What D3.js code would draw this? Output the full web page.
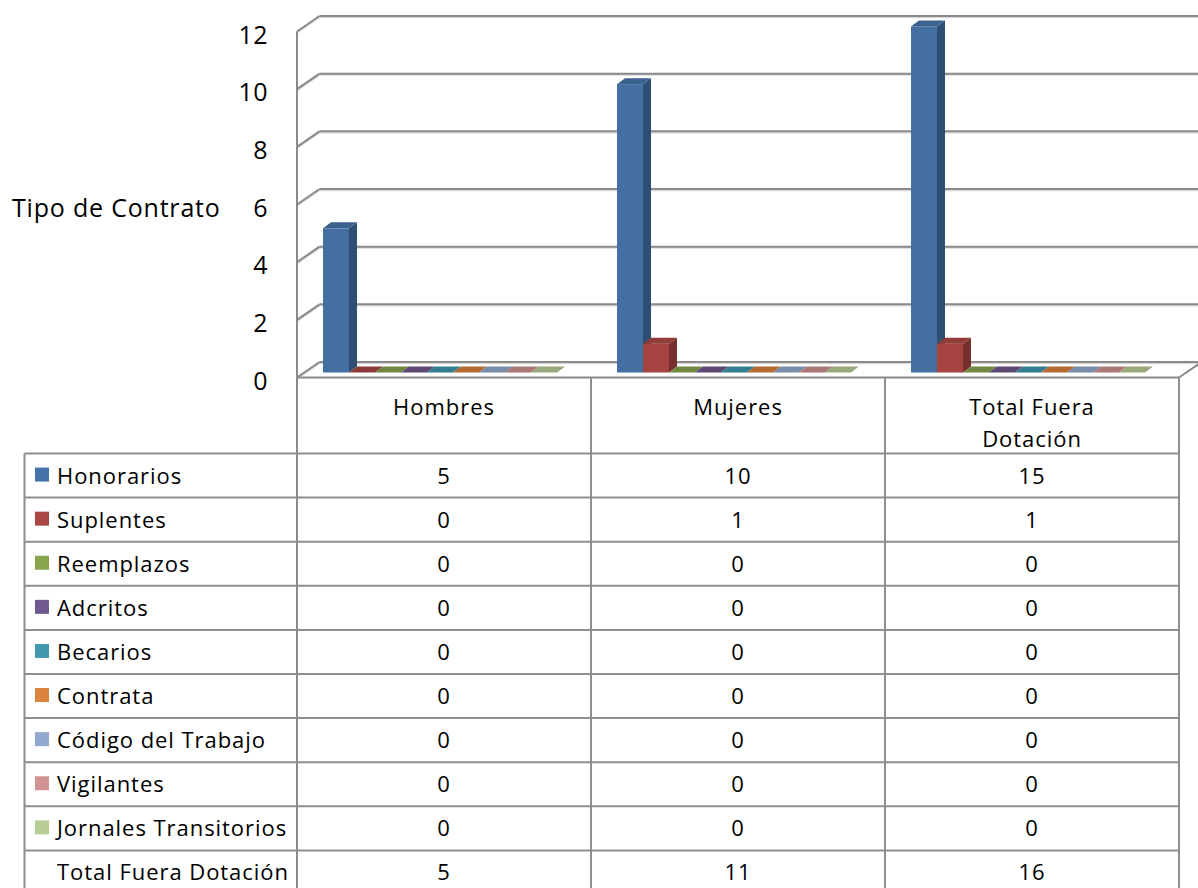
<!DOCTYPE html>
<html>
<head>
<meta charset="utf-8">
<script src="https://cdn.jsdelivr.net/npm/d3@7"></script>
<style>
  html, body { margin: 0; padding: 0; background: #ffffff; }
  svg { display: block; }
  text { font-family: "Open Sans", sans-serif; fill: #000; }
</style>
</head>
<body>
<svg id="chart" width="1198" height="888"></svg>
<script>
// Categories (columns of the data table)
const categories = ["Hombres", "Mujeres", "Total Fuera Dotación"];
const categoryLines = [["Hombres"], ["Mujeres"], ["Total Fuera", "Dotación"]];

// Contract types (series) with their values per category
const seriesNames = ["Honorarios", "Suplentes", "Reemplazos", "Adcritos", "Becarios",
  "Contrata", "Código del Trabajo", "Vigilantes", "Jornales Transitorios"];
const honorarios = [5, 10, 15];
const suplentes = [0, 1, 1];
const reemplazos = [0, 0, 0];
const adcritos = [0, 0, 0];
const becarios = [0, 0, 0];
const contrata = [0, 0, 0];
const codigoTrabajo = [0, 0, 0];
const vigilantes = [0, 0, 0];
const jornales = [0, 0, 0];
const totalRow = [5, 11, 16];
const seriesColors = ["#4572A7", "#AA4643", "#89A54E", "#71588F", "#4198AF",
  "#DB843D", "#93A9CF", "#D19392", "#B9CD96"];

const yTicks = [0, 2, 4, 6, 8, 10, 12];
const axisTitle = "Tipo de Contrato";
const totalLabel = "Total Fuera Dotación";

const seriesValues = [honorarios, suplentes, reemplazos, adcritos, becarios,
  contrata, codigoTrabajo, vigilantes, jornales];

const svg = d3.select("#chart");

// Box geometry: front-left axis corner and wall depth offset
const frontX = 297, frontY0 = 377.5;
const depthX = 22.5, depthY = 15.5;
const tableRight = 1179;
const gridColor = "#8a8a8a";

const yH = d3.scaleLinear().domain([0, 12]).range([0, 346]).clamp(true);
const xCat = d3.scaleBand().domain(categories).range([frontX, tableRight]);
const xSer = d3.scaleBand().domain(seriesNames).range([0, 234]);
const groupOffset = 26;

// Bars sit part-way into the box
const barBase = 372.5;
const barDX = 8, barDY = 6;

// ---- Walls and gridlines ----
const walls = svg.append("g");
yTicks.forEach(v => {
  const yb = frontY0 - depthY - yH(v);
  const yf = frontY0 - yH(v);
  [["#d8d8d8", 1.2], [gridColor, 0]].forEach(([c, off]) => {
    walls.append("line")
      .attr("x1", frontX + depthX).attr("x2", 1198)
      .attr("y1", yb + off).attr("y2", yb + off)
      .attr("stroke", c).attr("stroke-width", 2);
    walls.append("line")
      .attr("x1", frontX).attr("y1", yf + off)
      .attr("x2", frontX + depthX).attr("y2", yb + off)
      .attr("stroke", c).attr("stroke-width", 2);
  });
});
// floor front edge and right edge
walls.append("line")
  .attr("x1", frontX).attr("x2", tableRight)
  .attr("y1", frontY0).attr("y2", frontY0)
  .attr("stroke", gridColor).attr("stroke-width", 2);
walls.append("line")
  .attr("x1", tableRight).attr("y1", frontY0)
  .attr("x2", tableRight + depthX).attr("y2", frontY0 - depthY)
  .attr("stroke", gridColor).attr("stroke-width", 2);
// front vertical axis line down through the table
walls.append("line")
  .attr("x1", frontX).attr("x2", frontX)
  .attr("y1", frontY0 - yH(12)).attr("y2", 888)
  .attr("stroke", gridColor).attr("stroke-width", 2);

// ---- Axis labels ----
svg.append("g").selectAll("text").data(yTicks).join("text")
  .attr("x", 268).attr("y", v => frontY0 - yH(v) + 2)
  .attr("text-anchor", "end").attr("dominant-baseline", "central")
  .attr("font-size", 25).attr("letter-spacing", 0.5).text(v => v);
svg.append("text").attr("x", 12).attr("y", 207)
  .attr("dominant-baseline", "central").attr("font-size", 25)
  .attr("letter-spacing", 0.8).text(axisTitle);

// ---- 3D bars ----
const bars = svg.append("g");
categories.forEach((cat, ci) => {
  seriesNames.forEach((s, si) => {
    const v = seriesValues[si][ci];
    const col = d3.color(seriesColors[si]);
    const bx = xCat(cat) + groupOffset + xSer(s);
    const w = xSer.bandwidth();
    const top = barBase - yH(v);
    const g = bars.append("g");
    const front = col.darker(0.08);
    const side = col.darker(1.05);
    const topFace = v > 0 ? col.darker(0.45) : col.darker(0.55);
    if (v > 0) {
      g.append("rect").attr("x", bx).attr("y", top)
        .attr("width", w + 0.3).attr("height", barBase - top).attr("fill", front);
      g.append("polygon")
        .attr("points", [[bx + w, top], [bx + w + barDX, top - barDY],
          [bx + w + barDX, barBase - barDY], [bx + w, barBase]].join(" "))
        .attr("fill", side);
    }
    g.append("polygon")
      .attr("points", [[bx, top], [bx + barDX, top - barDY],
        [bx + w + barDX, top - barDY], [bx + w, top]].join(" "))
      .attr("fill", topFace);
  });
});

// ---- Data table ----
const table = svg.append("g");
const headTop = frontY0, headBottom = 453.5, rowH = 44.1, leftX = 24.5;
const tableColor = "#8e8e8e";
const fs = 22, ls = 0.95;
const rows = seriesNames.map((s, i) => ({ name: s, color: seriesColors[i], vals: seriesValues[i] }))
  .concat([{ name: totalLabel, color: null, vals: totalRow }]);

// vertical borders of category columns
categories.forEach(c => {
  table.append("line").attr("x1", xCat(c) + xCat.bandwidth()).attr("x2", xCat(c) + xCat.bandwidth())
    .attr("y1", headTop).attr("y2", 888).attr("stroke", tableColor).attr("stroke-width", 2);
});
table.append("line").attr("x1", leftX).attr("x2", leftX)
  .attr("y1", headBottom).attr("y2", 888).attr("stroke", tableColor).attr("stroke-width", 2);
// horizontal row lines
d3.range(rows.length + 1).forEach(i => {
  const y = headBottom + i * rowH;
  table.append("line").attr("x1", leftX).attr("x2", tableRight)
    .attr("y1", y).attr("y2", y).attr("stroke", tableColor).attr("stroke-width", 2);
});

// header labels
categories.forEach((c, ci) => {
  categoryLines[ci].forEach((ln, li) => {
    table.append("text").attr("x", xCat(c) + xCat.bandwidth() / 2)
      .attr("y", 406 + li * 32).attr("text-anchor", "middle")
      .attr("dominant-baseline", "central").attr("font-size", fs)
      .attr("letter-spacing", ls).text(ln);
  });
});

// body rows
rows.forEach((r, ri) => {
  const cy = headBottom + ri * rowH + rowH / 2 - 1;
  if (r.color) {
    table.append("rect").attr("x", 35).attr("y", cy - 7).attr("width", 14).attr("height", 14)
      .attr("fill", r.color);
  }
  table.append("text").attr("x", 57).attr("y", cy)
    .attr("dominant-baseline", "central").attr("font-size", fs)
    .attr("letter-spacing", ls).text(r.name);
  categories.forEach((c, ci) => {
    table.append("text").attr("x", xCat(c) + xCat.bandwidth() / 2).attr("y", cy)
      .attr("text-anchor", "middle").attr("dominant-baseline", "central")
      .attr("font-size", fs).attr("letter-spacing", ls).text(r.vals[ci]);
  });
});
</script>
</body>
</html>
